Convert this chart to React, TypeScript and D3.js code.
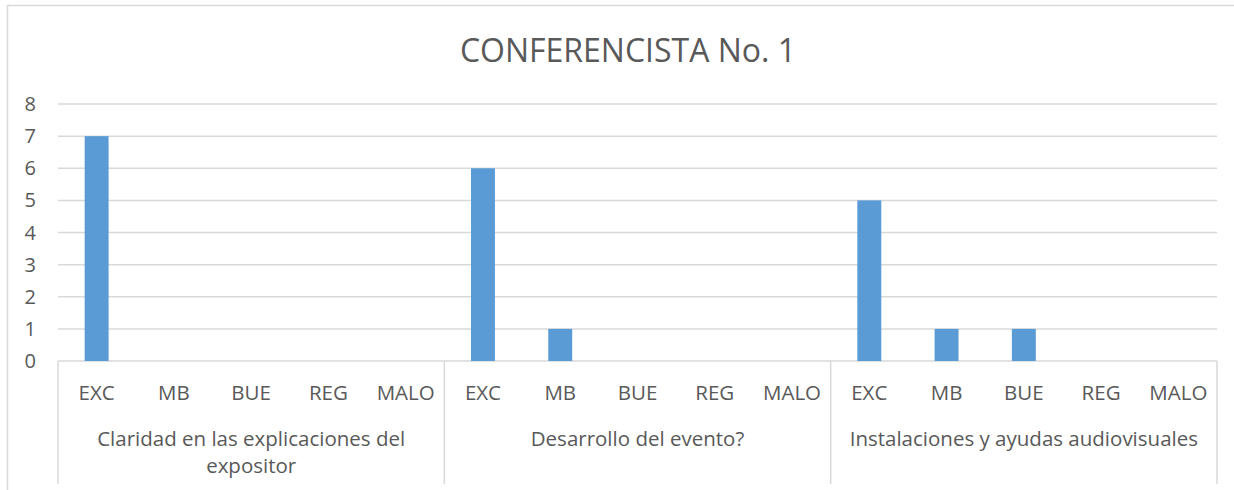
import React from 'react';
import * as d3 from 'd3';

const title = "CONFERENCISTA No. 1";
const groups = [
  "Claridad en las explicaciones del\nexpositor",
  "Desarrollo del evento?",
  "Instalaciones y ayudas audiovisuales",
];
const ratings = ["EXC", "MB", "BUE", "REG", "MALO"];
const values = [
  [7, 0, 0, 0, 0],
  [6, 1, 0, 0, 0],
  [5, 1, 1, 0, 0],
];
const yTicks = [0, 1, 2, 3, 4, 5, 6, 7, 8];

const W = 1234;
const H = 490;
const left = 58;
const right = 1217;
const top = 104;
const bottom = 361;
const barColor = "#5B9BD5";
const gridColor = "#D9D9D9";
const textColor = "#595959";
const font = "'Open Sans', sans-serif";

export default function App() {
  const y = d3.scaleLinear().domain([0, 8]).range([bottom, top]);
  const gx = d3.scaleBand().domain(groups).range([left, right]).padding(0);
  const sx = d3.scaleBand().domain(ratings).range([0, gx.bandwidth()]).padding(0);
  const barW = sx.bandwidth() * 0.31;

  return (
    <svg width={W} height={H} style={{ position: 'absolute', left: 0, top: 0, background: '#fff' }}>
      <rect x={7.5} y={5.5} width={W + 10} height={H + 10} fill="#fff" stroke={gridColor} strokeWidth={1.5} />
      <text x={628} y={62} textAnchor="middle" fontFamily={font} fontSize={32} fill={textColor}>
        {title}
      </text>
      {yTicks.map(t => (
        <g key={t}>
          <line x1={left} x2={right} y1={y(t)} y2={y(t)} stroke={gridColor} strokeWidth={1.5} />
          <text x={36} y={y(t) + 7} textAnchor="end" fontFamily={font} fontSize={20} fill={textColor}>{t}</text>
        </g>
      ))}
      {[left, ...groups.map(g => (gx(g) as number) + gx.bandwidth())].map((x, i) => (
        <line key={i} x1={x} x2={x} y1={bottom} y2={484} stroke={gridColor} strokeWidth={1.5} />
      ))}
      {groups.map((g, gi) => {
        const g0 = gx(g) as number;
        const lines = g.split("\n");
        return (
          <g key={g}>
            {ratings.map((r, ri) => {
              const cx = g0 + (sx(r) as number) + sx.bandwidth() / 2;
              const v = values[gi][ri];
              return (
                <g key={r}>
                  {v > 0 && (
                    <rect x={cx - barW / 2} y={y(v)} width={barW} height={y(0) - y(v)} fill={barColor} />
                  )}
                  <text x={cx} y={400} textAnchor="middle" fontFamily={font} fontSize={20.5} fill={textColor}>{r}</text>
                </g>
              );
            })}
            {lines.map((l, li) => (
              <text key={li} x={g0 + gx.bandwidth() / 2} y={446 + li * 27} textAnchor="middle" fontFamily={font} fontSize={20.5} fill={textColor}>{l}</text>
            ))}
          </g>
        );
      })}
    </svg>
  );
}
